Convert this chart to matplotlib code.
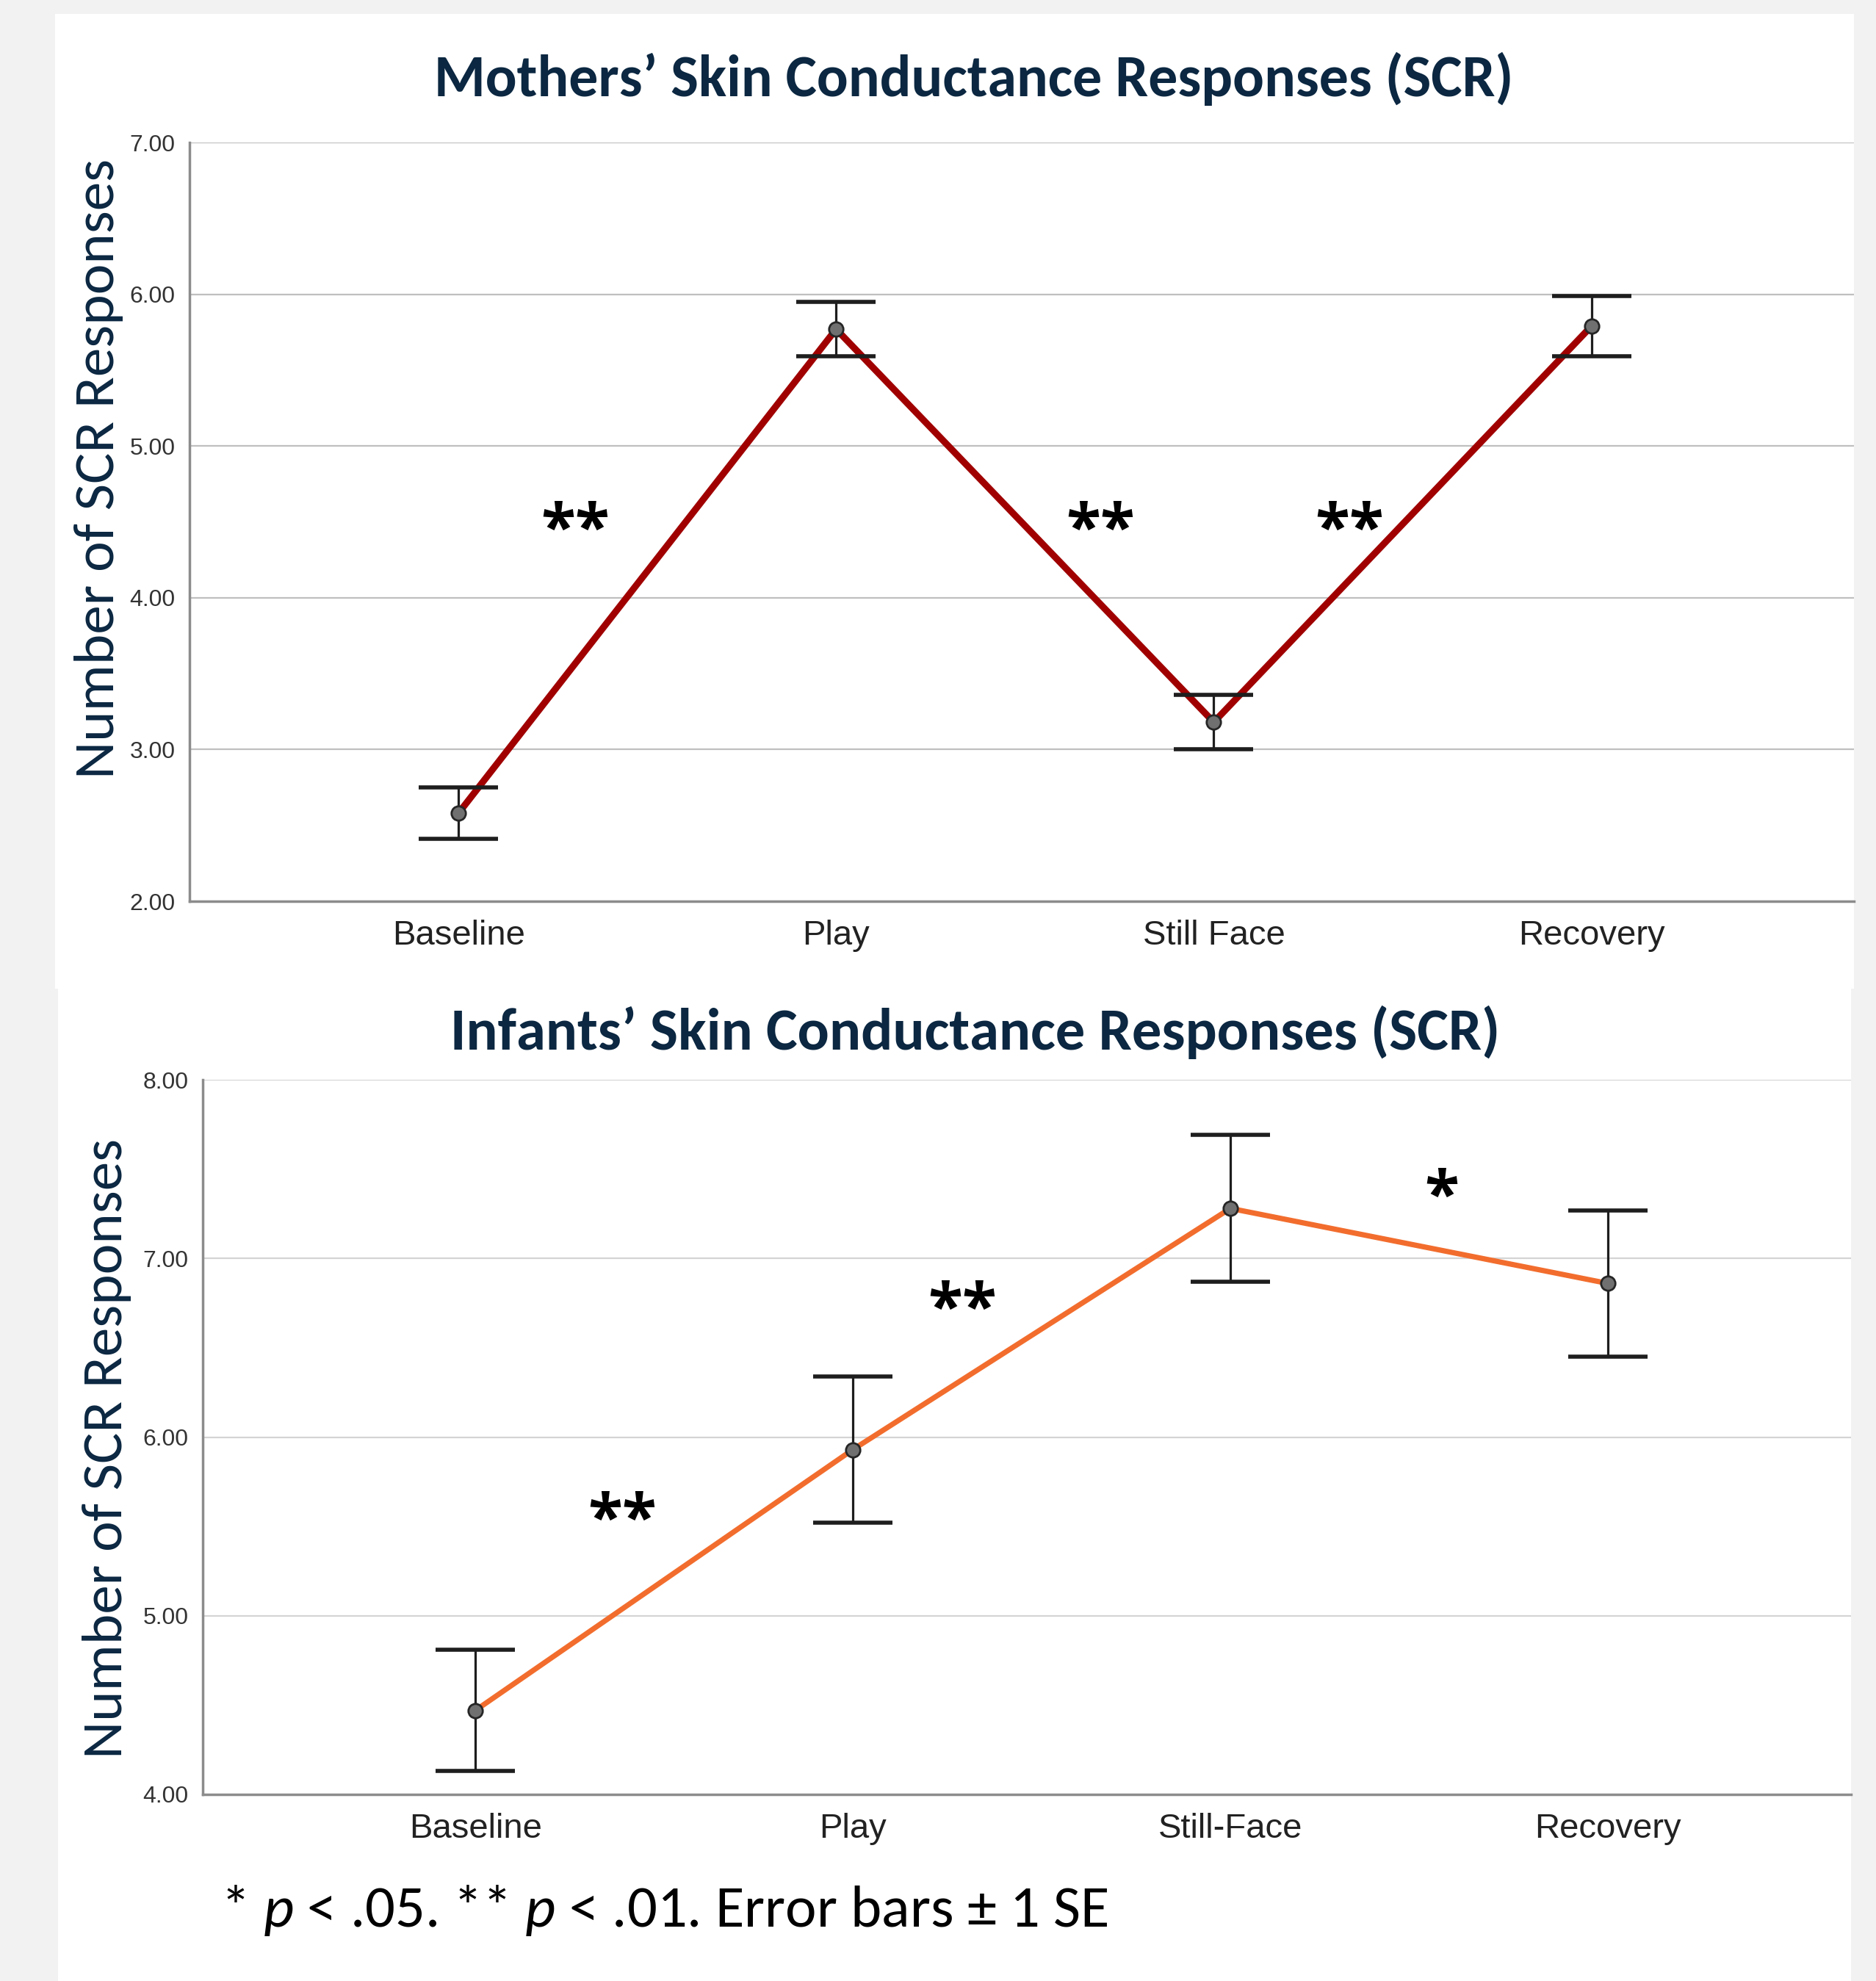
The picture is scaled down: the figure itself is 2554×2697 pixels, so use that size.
import matplotlib
matplotlib.use("Agg")
from matplotlib import pyplot as plt
from matplotlib import font_manager
from matplotlib.patches import Rectangle

# data
phases_mom = ["Baseline", "Play", "Still Face", "Recovery"]
phases_inf = ["Baseline", "Play", "Still-Face", "Recovery"]
mom_mean = [2.58, 5.77, 3.18, 5.79]
mom_se = [0.17, 0.18, 0.18, 0.20]
inf_mean = [4.47, 5.93, 7.28, 6.86]
inf_se = [0.34, 0.41, 0.41, 0.41]
mom_ticks = [2, 3, 4, 5, 6, 7]
inf_ticks = [4, 5, 6, 7, 8]
# significance marks: (x between phases, y, label)
mom_sig_x = [0.31, 1.70, 2.36]
mom_sig_y = [4.43, 4.43, 4.43]
mom_sig = ["**", "**", "**"]
inf_sig_x = [0.39, 1.29, 2.56]
inf_sig_y = [5.52, 6.70, 7.33]
inf_sig = ["**", "**", "*"]

names = {f.name for f in font_manager.fontManager.ttflist}
cal = "Carlito" if "Carlito" in names else "Lato"
navy = "#0B2741"

plt.rcParams["mathtext.fontset"] = "custom"
plt.rcParams["mathtext.it"] = cal + ":italic"
plt.rcParams["mathtext.rm"] = cal

fig = plt.figure(figsize=(25.54, 26.97), dpi=100, facecolor="#F2F2F2")
W, H = 2554, 2697
fig.patches.append(Rectangle((75 / W, 1 - 1346 / H), (2524 - 75) / W, (1346 - 19) / H,
                             transform=fig.transFigure, facecolor="white", edgecolor="none", zorder=-5))
fig.patches.append(Rectangle((79 / W, 0), (2520 - 79) / W, 1 - 1345 / H,
                             transform=fig.transFigure, facecolor="white", edgecolor="none", zorder=-5))


def panel(rect, labels, mean, se, ticks, color, lw, xlim, sig_x, sig_y, sig, grid_c, ylab_xy):
    ax = fig.add_axes(rect)
    ax.set_facecolor("none")
    x = range(len(labels))
    ax.plot(x, mean, color=color, lw=lw, zorder=3, solid_capstyle="butt")
    ax.errorbar(x, mean, yerr=se, fmt="none", ecolor="#1e1e1e", elinewidth=2.3,
                capsize=39, capthick=4, zorder=4)
    ax.plot(x, mean, "o", ms=14, mfc="#707070", mec="#262626", mew=2, zorder=5)
    ax.set_xlim(*xlim)
    ax.set_ylim(ticks[0], ticks[-1])
    ax.set_yticks(ticks)
    ax.set_yticklabels(["%.2f" % t for t in ticks], fontsize=23, family="Liberation Sans", color="#333333")
    ax.set_xticks(list(x))
    ax.set_xticklabels(labels, fontsize=34, family="Liberation Sans", color="#222222")
    ax.tick_params(axis="both", length=0)
    ax.tick_params(axis="y", pad=14)
    ax.tick_params(axis="x", pad=18)
    ax.grid(axis="y", color=grid_c, lw=1.6)
    ax.set_axisbelow(True)
    for s in ["top", "right"]:
        ax.spines[s].set_visible(False)
    for s in ["left", "bottom"]:
        ax.spines[s].set_color("#8c8c8c")
        ax.spines[s].set_linewidth(2.5)
    ax.set_ylabel("Number of SCR Responses", fontsize=57, family=cal, color=navy, va="center")
    ax.yaxis.set_label_coords(*ylab_xy)
    for sx, sy, s in zip(sig_x, sig_y, sig):
        ax.text(sx, sy, s, fontsize=62, family="Open Sans", weight="bold", ha="center", va="center",
                color="black")
    return ax


panel([258 / W, 1 - 1227 / H, (2524 - 258) / W, (1227 - 194) / H], phases_mom, mom_mean, mom_se,
      mom_ticks, "#A00000", 6.6, (-0.712, 3.695), mom_sig_x, mom_sig_y, mom_sig, "#bfbfbf", (-0.0547, 0.57))
panel([276 / W, 1 - 2443 / H, (2520 - 276) / W, (2443 - 1470) / H], phases_inf, inf_mean, inf_se,
      inf_ticks, "#F26D2D", 5.2, (-0.722, 3.644), inf_sig_x, inf_sig_y, inf_sig, "#d4d4d4", (-0.058, 0.484))

fig.text(1326 / W, 1 - 107 / H, "Mothers\u2019 Skin Conductance Responses (SCR)", fontsize=57.5,
         family=cal, weight="bold", color=navy, ha="center", va="center")
fig.text(1328 / W, 1 - 1405 / H, "Infants\u2019 Skin Conductance Responses (SCR)", fontsize=58,
         family=cal, weight="bold", color=navy, ha="center", va="center")
fig.text(300 / W, 1 - 2601 / H, "* $p$ < .05. ** $p$ < .01. Error bars \u00b1 1 SE", fontsize=58,
         family=cal, color="black", ha="left", va="center")

fig.savefig("out.png", dpi=100, facecolor=fig.get_facecolor())
